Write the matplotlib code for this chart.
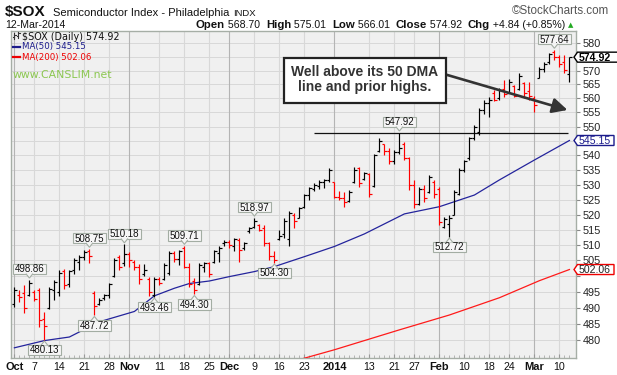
import numpy as np
import matplotlib
matplotlib.use("Agg")
import matplotlib.pyplot as plt
from matplotlib.collections import LineCollection
from matplotlib.patches import Polygon, Rectangle, FancyArrowPatch
from matplotlib.transforms import IdentityTransform
from matplotlib.ticker import FixedLocator, NullLocator
from matplotlib.lines import Line2D

# ---------------- data ----------------
tick_positions = [0, 4, 9, 14, 19, 23, 29, 34, 39, 43, 48, 53, 58, 64, 71, 76, 80, 85, 90, 95, 99, 104, 109]
tick_labels = ['Oct', '7', '14', '21', '28', 'Nov', '11', '18', '25', 'Dec', '9', '16', '23',
               '2014', '13', '21', '27', 'Feb', '10', '18', '24', 'Mar', '10']
month_labels = ['Oct', 'Nov', 'Dec', '2014', 'Feb', 'Mar']

opens = [491.0, 494.0, 494.5, 494.0, 495.0, 495.5, 486.5, 490.0, 495.5, 495.0,
         501.5, 497.5, 502.0, 504.5, 506.2, 508.0, 494.5, 491.0, 493.0, 494.0,
         500.0, 506.0, 504.0, 507.0, 504.5, 503.0, 500.5, 499.0, 494.0, 499.0,
         499.0, 501.0, 507.5, 505.5, 509.0, 503.0, 498.5, 497.5, 503.0, 504.0,
         504.5, 507.5, 510.5, 511.0, 509.5, 511.5, 509.0, 514.5, 516.0, 516.5,
         515.5, 510.5, 506.5, 512.0, 513.5, 512.0, 520.0, 519.0, 522.5, 526.5,
         528.5, 529.5, 531.0, 531.5, 531.0, 526.0, 525.5, 524.5, 531.0, 535.5,
         532.0, 533.5, 529.5, 541.5, 544.0, 541.5, 538.0, 541.0, 544.0, 539.0,
         530.0, 523.5, 528.5, 527.5, 531.0, 528.5, 516.0, 517.0, 520.0, 527.0,
         535.0, 539.0, 546.0, 548.0, 556.0, 558.5, 562.0, 560.0, 563.5, 562.0,
         564.5, 563.5, 565.5, 562.5, 560.0, 567.5, 570.5, 573.0, 577.0, 575.0,
         573.0, 568.70]
highs = [496.5, 495.6, 497.0, 498.86, 495.6, 496.2, 488.5, 496.6, 498.7, 502.0,
         502.2, 502.0, 505.7, 506.8, 508.4, 508.75, 495.1, 493.0, 494.3, 497.8,
         505.7, 506.8, 510.18, 507.8, 505.0, 503.9, 503.9, 499.8, 499.8, 499.8,
         504.1, 507.9, 507.9, 508.4, 509.71, 504.1, 499.3, 504.1, 504.6, 504.6,
         508.4, 509.5, 511.6, 511.6, 512.2, 512.2, 511.1, 516.0, 518.97, 517.0,
         516.5, 511.1, 507.9, 514.9, 518.7, 521.0, 520.4, 522.6, 527.0, 529.3,
         530.5, 531.6, 532.0, 535.5, 531.0, 528.0, 527.5, 528.2, 536.0, 536.0,
         534.4, 533.8, 540.6, 545.9, 544.1, 542.4, 541.8, 547.92, 544.7, 539.5,
         531.6, 529.3, 529.9, 533.3, 531.6, 529.3, 519.3, 519.8, 528.2, 535.5,
         538.4, 546.5, 550.6, 556.4, 559.4, 560.6, 563.0, 563.6, 566.6, 567.0,
         564.7, 569.0, 566.0, 566.0, 561.0, 571.3, 573.2, 576.3, 577.64, 575.7,
         575.7, 575.01]
lows = [490.3, 491.9, 488.4, 493.6, 492.0, 484.0, 480.13, 489.5, 492.3, 493.6,
        495.9, 496.4, 500.5, 502.0, 505.1, 504.0, 487.72, 490.8, 492.5, 493.0,
        499.8, 502.0, 503.2, 503.0, 502.0, 497.5, 500.0, 493.5, 493.46, 497.2,
        498.7, 500.3, 504.6, 503.5, 502.4, 496.6, 494.30, 497.0, 501.4, 499.8,
        504.1, 504.6, 509.5, 508.9, 507.9, 504.6, 508.4, 513.9, 515.5, 514.4,
        509.5, 505.2, 504.30, 511.6, 512.2, 509.5, 515.5, 518.7, 522.0, 525.0,
        528.0, 528.6, 529.0, 531.0, 525.5, 525.0, 522.5, 524.3, 530.5, 529.3,
        531.6, 525.8, 529.3, 541.2, 540.1, 537.2, 537.2, 540.6, 538.4, 528.2,
        522.1, 523.2, 524.3, 527.1, 525.5, 516.5, 515.4, 512.72, 519.8, 526.6,
        534.4, 538.4, 545.3, 547.0, 554.5, 553.5, 559.0, 559.4, 560.6, 562.0,
        560.6, 563.0, 560.0, 559.4, 555.3, 567.2, 569.5, 572.6, 574.0, 571.4,
        569.0, 566.01]
closes = [495.5, 493.2, 490.0, 497.8, 492.8, 486.0, 484.3, 496.0, 498.0, 501.0,
          497.0, 501.5, 505.0, 506.0, 507.8, 506.5, 490.5, 492.5, 494.0, 497.5,
          505.0, 503.0, 507.0, 505.0, 503.0, 499.0, 502.0, 495.0, 499.0, 497.8,
          503.5, 507.5, 505.5, 508.0, 503.0, 497.5, 495.5, 503.5, 504.2, 500.5,
          508.0, 509.0, 511.0, 510.0, 511.8, 508.5, 510.5, 515.5, 518.0, 515.0,
          510.5, 506.5, 505.0, 513.0, 518.0, 520.5, 518.0, 522.0, 526.5, 528.8,
          530.0, 531.0, 531.5, 535.0, 526.0, 525.5, 524.0, 527.5, 535.0, 530.5,
          534.0, 527.0, 540.0, 545.0, 541.5, 538.0, 541.0, 542.5, 539.0, 530.0,
          523.5, 528.5, 525.5, 532.5, 527.0, 517.5, 518.5, 519.0, 527.5, 535.0,
          538.0, 546.0, 550.0, 556.0, 558.5, 559.5, 559.3, 563.0, 561.5, 566.0,
          561.0, 568.0, 562.0, 561.0, 557.5, 570.5, 572.5, 576.0, 575.0, 572.5,
          570.08, 574.92]
prev_close = 490.5

ma50_idx = [0, 6, 11, 17, 24, 28, 32, 35, 39, 43, 48, 52, 55, 58, 64, 70, 78, 85, 92, 97, 104, 111]
ma50_val = [477.6, 479.8, 480.9, 485.6, 488.8, 493.7, 496.1, 497.6, 498.4, 499.8, 501.4, 503.0,
            504.6, 506.2, 509.5, 513.6, 520.2, 522.6, 526.5, 531.6, 538.4, 545.15]
ma200_idx = [56, 64, 77, 87, 97, 105, 111]
ma200_val = [473.6, 477.0, 483.1, 487.7, 493.1, 498.5, 502.06]

high_label_idx = [3, 15, 22, 34, 48, 77, 108]
high_label_val = [498.86, 508.75, 510.18, 509.71, 518.97, 547.92, 577.64]
low_label_idx = [6, 16, 28, 36, 52, 87]
low_label_val = [480.13, 487.72, 493.46, 494.30, 504.30, 512.72]

resist_level = 547.92
resist_start_idx = 60

y_ticks = list(range(480, 581, 5))

last_close, last_ma50, last_ma200 = 574.92, 545.15, 502.06

# ---------------- figure ----------------
W, H = 617, 375
fig = plt.figure(figsize=(W / 100, H / 100), dpi=100)
fig.patch.set_facecolor('white')
ID = IdentityTransform()
SANS = 'Liberation Sans'


def ptxt(x, y, s, **kw):
    """text at top-left pixel coords (y measured from top)"""
    return fig.text(x, H - y, s, transform=ID, **kw)


ax = fig.add_axes([11 / W, 1 - 358 / H, (576 - 11) / W, (358 - 31) / H])
ax.set_facecolor('#f0f0f0')
ax.set_yscale('log')
ax.set_ylim(474.5, 584.6)
ax.set_xlim(-0.68, 112.32)
for s in ax.spines.values():
    s.set_color('#a6aea6')
    s.set_linewidth(1.0)

# grid
for yv in y_ticks:
    ax.axhline(yv, color='#d8d8d8', lw=0.7, zorder=0)
for p, l in zip(tick_positions, tick_labels):
    ax.axvline(p, color='#b4b4b4' if l in month_labels else '#d8d8d8', lw=0.8, zorder=0)


def ypix(v):
    return ax.transData.transform((0, v))[1]


# hide y labels that sit under the value boxes on the right axis
box_values = [last_close, last_ma50, last_ma200]
ylabels = []
for v in y_ticks:
    covered = any(abs(ypix(v) - ypix(b)) < 7.5 for b in box_values)
    ylabels.append('' if covered else str(v))

ax.yaxis.tick_right()
ax.yaxis.set_major_locator(FixedLocator(y_ticks))
ax.yaxis.set_minor_locator(NullLocator())
ax.set_yticklabels(ylabels)
ax.tick_params(axis='y', which='major', direction='out', length=3, width=0.8, color='#888888',
               pad=2, labelsize=7.8, labelcolor='#222222')
for t in ax.get_yticklabels():
    t.set_family(SANS)

# x axis
ax.set_xticks(tick_positions)
ax.set_xticklabels(tick_labels)
n = len(closes)
ax.xaxis.set_minor_locator(FixedLocator(list(range(n))))
ax.tick_params(axis='x', which='major', direction='in', length=3, width=0.8, color='#999999',
               pad=3, labelsize=7.7, labelcolor='#111111')
ax.tick_params(axis='x', which='minor', direction='in', length=2, width=0.6, color='#aaaaaa')
for t in ax.get_xticklabels():
    t.set_family(SANS)
    if t.get_text() in month_labels:
        t.set_fontweight('bold')
        t.set_fontsize(7.9)

# OHLC bars
o = np.array(opens); h = np.array(highs); lo = np.array(lows); c = np.array(closes)
prev = np.concatenate([[prev_close], c[:-1]])
segs, cols = [], []
for i in range(n):
    col = 'black' if c[i] >= prev[i] else '#ff0000'
    segs += [[(i, lo[i]), (i, h[i])], [(i - 0.45, o[i]), (i, o[i])], [(i, c[i]), (i + 0.45, c[i])]]
    cols += [col] * 3
ax.add_collection(LineCollection(segs, colors=cols, linewidths=0.85, zorder=4, capstyle='butt'))

# moving averages
ax.plot(ma50_idx, ma50_val, color='#24249c', lw=0.9, zorder=3)
ax.plot(ma200_idx, ma200_val, color='#ff1a1a', lw=0.9, zorder=3)

# resistance line
ax.hlines(resist_level, resist_start_idx, n - 1.3, color='#111111', lw=0.9, zorder=3)

fig.canvas.draw()
renderer = fig.canvas.get_renderer()

LBL_FC, LBL_EC = '#f6f6f6', '#a3ada3'


def point_label(i, v, above):
    x, y = ax.transData.transform((i, v))
    if above:
        cy = y + 10.5
        tri = [(x - 3.5, cy - 4.6), (x, y + 1.5), (x + 3.5, cy - 4.6)]
    else:
        cy = y - 10.5
        tri = [(x - 3.5, cy + 4.6), (x, y - 1.5), (x + 3.5, cy + 4.6)]
    t = fig.text(x, cy - 3.4, f'{v:.2f}', transform=ID, ha='center', va='baseline',
                 fontsize=7.0, family=SANS, color='#111111', zorder=9)
    w = t.get_window_extent(renderer).width
    fig.add_artist(Rectangle((x - w / 2 - 2, cy - 5.2), w + 4, 10.4, transform=ID, fc=LBL_FC,
                             ec=LBL_EC, lw=0.8, zorder=7))
    fig.add_artist(Polygon(tri, closed=False, transform=ID, fc=LBL_FC, ec=LBL_EC, lw=0.8, zorder=8))


for i, v in zip(high_label_idx, high_label_val):
    point_label(i, v, True)
for i, v in zip(low_label_idx, low_label_val):
    point_label(i, v, False)


def value_box(v, ec, tc, bold, x1):
    y = ypix(v)
    x0 = 574
    poly = [(x0, y), (x0 + 3.5, y + 5), (x1, y + 5), (x1, y - 5), (x0 + 3.5, y - 5)]
    fig.add_artist(Polygon(poly, closed=True, transform=ID, fc='white', ec=ec, lw=1.0, zorder=9))
    fig.text(x0 + 5, y - 3.4, f'{v:.2f}', transform=ID, ha='left', va='baseline', fontsize=7.6,
             family=SANS, color=tc, fontweight='bold' if bold else 'normal', zorder=10)


value_box(last_close, '#000000', '#000000', True, 618)
value_box(last_ma50, '#1c1c8c', '#1c1c8c', False, 614)
value_box(last_ma200, '#ee0000', '#222222', False, 614)

# ---------------- header ----------------
ptxt(5, 16, '$SOX', fontsize=11, fontweight='bold', family=SANS, color='#111111', va='baseline')
t_name = ptxt(53, 16, 'Semiconductor Index - Philadelphia', fontsize=8.0, family=SANS,
              color='#111111', va='baseline')
x_indx = 53 + t_name.get_window_extent(renderer).width + 4
ptxt(x_indx, 16, 'INDX', fontsize=6.8, family=SANS, color='#111111', va='baseline')
ptxt(609, 14, '\u00a9StockCharts.com', fontsize=8.4, family=SANS, color='#555555', va='baseline',
     ha='right')
ptxt(5, 28, '12-Mar-2014', fontsize=7.6, family=SANS, color='#111111', va='baseline')

segments = [('Open', True), (' 568.70  ', False), ('High', True), (' 575.01  ', False),
            ('Low', True), (' 566.01  ', False), ('Close', True), (' 574.92  ', False),
            ('Chg', True), (' +4.84 (+0.85%)', False)]
xcur = 196
for s, b in segments:
    t = ptxt(xcur, 28, s, fontsize=8.2 if b else 7.6, fontweight='bold' if b else 'normal',
             family=SANS, color='#111111', va='baseline')
    xcur += t.get_window_extent(renderer).width
ptxt(xcur + 3, 27, '\u25b2', fontsize=5, color='#22aa22', va='baseline', family='DejaVu Sans')

# ---------------- in-chart legend ----------------
for xx, (a, b, oo, cc) in zip([14, 18], [(33, 39, 37, 35), (32, 38, 36, 33)]):
    fig.add_artist(Line2D([xx, xx], [H - a, H - b], transform=ID, color='#333333', lw=0.8))
    fig.add_artist(Line2D([xx - 1.5, xx], [H - oo, H - oo], transform=ID, color='#333333', lw=0.8))
    fig.add_artist(Line2D([xx, xx + 1.5], [H - cc, H - cc], transform=ID, color='#333333', lw=0.8))
ptxt(22, 39.5, '$SOX (Daily) 574.92', fontsize=6.9, family='DejaVu Sans', color='#111111',
     va='baseline')
fig.add_artist(Line2D([13, 20], [H - 46.5, H - 46.5], transform=ID, color='#1c1c8c', lw=1.6))
ptxt(22, 49.5, 'MA(50) 545.15', fontsize=6.2, family='DejaVu Sans', color='#1c1c8c', va='baseline')
fig.add_artist(Line2D([13, 20], [H - 57, H - 57], transform=ID, color='#ee0000', lw=1.6))
ptxt(22, 60, 'MA(200) 502.06', fontsize=6.2, family='DejaVu Sans', color='#ee0000', va='baseline')
ptxt(13, 78, 'www.CANSLIM.net', fontsize=7.8, family='DejaVu Sans', color='#8cc751', va='baseline')

# ---------------- callout ----------------
fig.add_artist(Rectangle((284, H - 102.7), 162, 44.4, transform=ID, fc='white', ec='#222222',
                         lw=1.6, zorder=9))
ptxt(365, 76.5, 'Well above its 50 DMA', fontsize=10, fontweight='bold', family=SANS,
     color='#333333', ha='center', va='baseline', zorder=10)
ptxt(365, 91.5, 'line and prior highs.', fontsize=10, fontweight='bold', family=SANS,
     color='#333333', ha='center', va='baseline', zorder=10)
fig.add_artist(FancyArrowPatch((446, H - 74.6), (567.5, H - 110), transform=ID,
                               arrowstyle='-|>,head_length=9,head_width=4.5', color='#333333',
                               lw=1.9, zorder=8, shrinkA=0, shrinkB=0))

fig.savefig('out.png', dpi=100, facecolor='white')
